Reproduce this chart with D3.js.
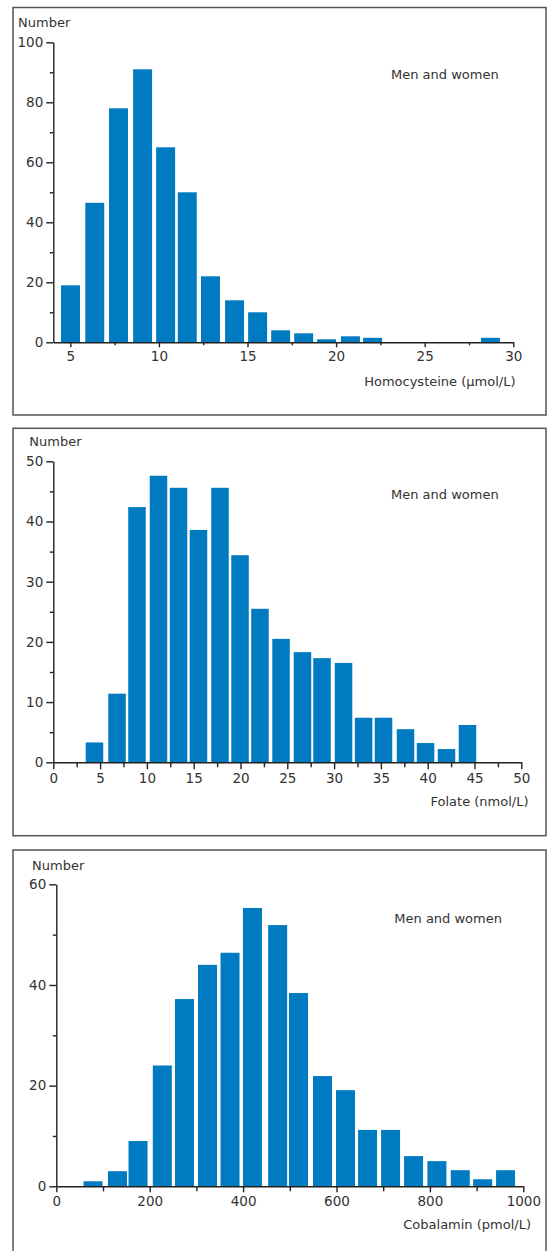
<!DOCTYPE html>
<html>
<head>
<meta charset="utf-8">
<script src="https://cdn.jsdelivr.net/npm/d3@7"></script>
<style>
  html, body { margin: 0; padding: 0; background: #fff; }
  svg { display: block; }
  text { font-family: "DejaVu Sans", sans-serif; fill: #333; }
</style>
</head>
<body>
<script>
// ---------- Data ----------
// Panel 1: Homocysteine
const homCenters = [5.01, 6.38, 7.72, 9.08, 10.38, 11.6, 12.91, 14.27, 15.57, 16.87, 18.17, 19.46, 20.81, 22.06, 28.71];
const homCounts  = [19, 46.5, 78, 91, 65, 50, 22, 14, 10, 4, 3, 1, 2, 1.5, 1.5];
const homXTicks  = [5, 10, 15, 20, 25, 30];
const homXMinor  = [7.5, 12.5, 17.5, 22.5, 27.5];
const homYTicks  = [0, 20, 40, 60, 80, 100];
const homYMinor  = [10, 30, 50, 70, 90];

// Panel 2: Folate
const folCenters = [4.40, 6.81, 8.94, 11.24, 13.38, 15.51, 17.81, 19.95, 22.08, 24.33, 26.62, 28.71, 31.01, 33.15, 35.28, 37.63, 39.77, 42.01, 44.25];
const folCounts  = [3.3, 11.4, 42.4, 47.6, 45.6, 38.6, 45.6, 34.4, 25.5, 20.5, 18.3, 17.3, 16.5, 7.4, 7.4, 5.5, 3.2, 2.2, 6.2];
const folXTicks  = [0, 5, 10, 15, 20, 25, 30, 35, 40, 45, 50];
const folXMinor  = [2.5, 7.5, 12.5, 17.5, 22.5, 27.5, 32.5, 37.5, 42.5, 47.5];
const folYTicks  = [0, 10, 20, 30, 40, 50];
const folYMinor  = [5, 15, 25, 35, 45];

// Panel 3: Cobalamin
const cobCenters = [78.6, 131, 175, 227, 274.5, 323.8, 372, 420, 474, 518.6, 570, 619.3, 666.5, 715.8, 765, 815, 865, 913, 962];
const cobCounts  = [1, 3, 9, 24, 37.2, 44, 46.4, 55.3, 51.9, 38.4, 21.9, 19.1, 11.2, 11.2, 6, 5, 3.2, 1.4, 3.2];
const cobXTicks  = [0, 200, 400, 600, 800, 1000];
const cobXMinor  = [100, 300, 500, 700, 900];
const cobYTicks  = [0, 20, 40, 60];
const cobYMinor  = [10, 30, 50];

const subtitle = "Men and women";
const yTitle = "Number";

// ---------- Drawing ----------
const W = 552, H = 1251;
const BAR = "#007bc2";
const AX = "#222";

const svg = d3.select("body").append("svg")
  .attr("width", W).attr("height", H);

function panel(cfg) {
  const g = svg.append("g");
  // frame
  g.append("rect")
    .attr("x", 13).attr("y", cfg.frameTop)
    .attr("width", 533).attr("height", cfg.frameH)
    .attr("fill", "none").attr("stroke", "#555").attr("stroke-width", 1.5);

  const x = d3.scaleLinear().domain(cfg.xDomain).range(cfg.xRange);
  const y = d3.scaleLinear().domain(cfg.yDomain).range(cfg.yRange);

  // bars
  g.selectAll("rect.bar").data(cfg.centers).enter().append("rect")
    .attr("class", "bar")
    .attr("x", (d) => x(d - cfg.barW / 2))
    .attr("width", (d) => x(d + cfg.barW / 2) - x(d - cfg.barW / 2))
    .attr("y", (d, i) => y(cfg.counts[i]))
    .attr("height", (d, i) => y(0) - y(cfg.counts[i]))
    .attr("fill", BAR);

  // y axis
  const yAx = g.append("g").attr("transform", `translate(${cfg.xRange[0]},0)`)
    .call(d3.axisLeft(y).tickValues(cfg.yTicks).tickSize(cfg.yMajor).tickSizeOuter(0).tickPadding(3).tickFormat(d3.format("d")));
  const yMin = g.append("g").attr("transform", `translate(${cfg.xRange[0]},0)`)
    .call(d3.axisLeft(y).tickValues(cfg.yMinorT).tickSize(3.5).tickSizeOuter(0).tickFormat(""));
  yMin.select(".domain").remove();

  // x axis
  const xAx = g.append("g").attr("transform", `translate(0,${cfg.yRange[0]})`)
    .call(d3.axisBottom(x).tickValues(cfg.xTicks).tickSize(cfg.xMajor).tickSizeOuter(0).tickPadding(4).tickFormat(d3.format("d")));
  const xMin = g.append("g").attr("transform", `translate(0,${cfg.yRange[0]})`)
    .call(d3.axisBottom(x).tickValues(cfg.xMinorT).tickSize(cfg.xMinorLen).tickSizeOuter(0).tickFormat(""));
  xMin.select(".domain").remove();

  [yAx, yMin, xAx, xMin].forEach((a) => {
    a.selectAll("path, line").attr("stroke", AX).attr("stroke-width", 1.4);
    a.selectAll("text").attr("font-size", 13.5).attr("font-family", "DejaVu Sans").attr("fill", "#333");
  });

  // texts
  g.append("text").attr("x", cfg.numX).attr("y", cfg.numY)
    .attr("font-size", 13).text(yTitle);
  g.append("text").attr("x", cfg.subX).attr("y", cfg.subY)
    .attr("font-size", 13).text(subtitle);
  g.append("text").attr("x", cfg.titleX).attr("y", cfg.titleY)
    .attr("text-anchor", "end").attr("font-size", 13).text(cfg.title);
}

panel({
  frameTop: 7.5, frameH: 407.5,
  xDomain: [4.04, 30], xRange: [53.3, 513.3],
  yDomain: [0, 100], yRange: [342.3, 42.3],
  centers: homCenters, counts: homCounts, barW: 1.07,
  xTicks: homXTicks, xMinorT: homXMinor, yTicks: homYTicks, yMinorT: homYMinor,
  yMajor: 7, xMajor: 5, xMinorLen: 3,
  numX: 18, numY: 26.5, subX: 391, subY: 79, titleX: 515.5, titleY: 385.5,
  title: "Homocysteine (\u00b5mol/L)"
});

panel({
  frameTop: 428.3, frameH: 407.4,
  xDomain: [0, 50], xRange: [53.3, 521.3],
  yDomain: [0, 50], yRange: [762.3, 461.3],
  centers: folCenters, counts: folCounts, barW: 1.87,
  xTicks: folXTicks, xMinorT: folXMinor, yTicks: folYTicks, yMinorT: folYMinor,
  yMajor: 7, xMajor: 7, xMinorLen: 5,
  numX: 29.3, numY: 446, subX: 391, subY: 499, titleX: 528.5, titleY: 805.5,
  title: "Folate (nmol/L)"
});

panel({
  frameTop: 850, frameH: 420,
  xDomain: [0, 1000], xRange: [56.3, 523.3],
  yDomain: [0, 60], yRange: [1186.3, 884.3],
  centers: cobCenters, counts: cobCounts, barW: 40.7,
  xTicks: cobXTicks, xMinorT: cobXMinor, yTicks: cobYTicks, yMinorT: cobYMinor,
  yMajor: 7, xMajor: 6, xMinorLen: 5,
  numX: 32, numY: 869.5, subX: 394.3, subY: 923, titleX: 531, titleY: 1229,
  title: "Cobalamin (pmol/L)"
});
</script>
</body>
</html>
